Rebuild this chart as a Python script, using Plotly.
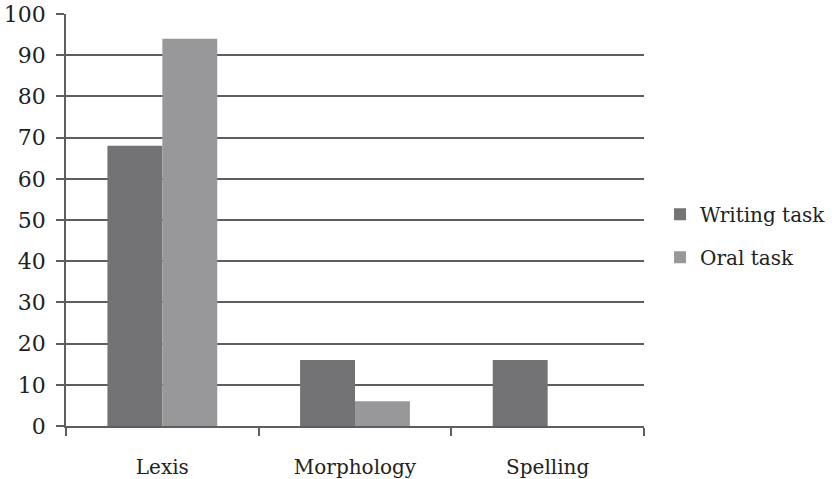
import plotly.graph_objects as go

categories = ["Lexis", "Morphology", "Spelling"]
writing_task = [68, 16, 16]
oral_task = [94, 6, 0]
y_ticks = list(range(0, 101, 10))

FONT = "DejaVu Serif"
GRID = "#5e5e5e"
TEXT = "#222222"

fig = go.Figure()
fig.add_trace(go.Bar(
    name="Writing task", x=categories, y=writing_task,
    marker=dict(color="#737375", line=dict(width=0)),
    legendgroup="w",
))
fig.add_trace(go.Bar(
    name="Oral task", x=categories, y=oral_task,
    marker=dict(color="#98989a", line=dict(width=0)),
    legendgroup="o",
))

fig.update_layout(
    width=832, height=479,
    margin=dict(l=66, r=0, t=14, b=53, autoexpand=False),
    paper_bgcolor="white", plot_bgcolor="white",
    barmode="group", bargap=0.43, bargroupgap=0,
    font=dict(family=FONT, size=20, color=TEXT),
    showlegend=True,
    legend=dict(
        x=0.7755, y=0.462, xanchor="left", yanchor="middle",
        traceorder="grouped", tracegroupgap=14,
        font=dict(family=FONT, size=20, color=TEXT),
        itemwidth=30,
    ),
)
fig.update_xaxes(
    type="category", tickson="boundaries", domain=[0, 578 / 766],
    ticks="outside", ticklen=8, tickcolor=GRID, tickwidth=1.5,
    showline=True, linecolor=GRID, linewidth=1.5,
    showgrid=False, tickfont=dict(size=20), ticklabelstandoff=22,
    automargin=False,
)
fig.update_yaxes(
    range=[0, 100], tickvals=y_ticks,
    ticks="outside", ticklen=8, tickcolor=GRID, tickwidth=1.5,
    showline=True, linecolor=GRID, linewidth=1.5,
    showgrid=True, gridcolor=GRID, gridwidth=1.5,
    zeroline=False, tickfont=dict(size=22), ticklabelstandoff=6,
    automargin=False,
)

fig.write_html("out.html")
